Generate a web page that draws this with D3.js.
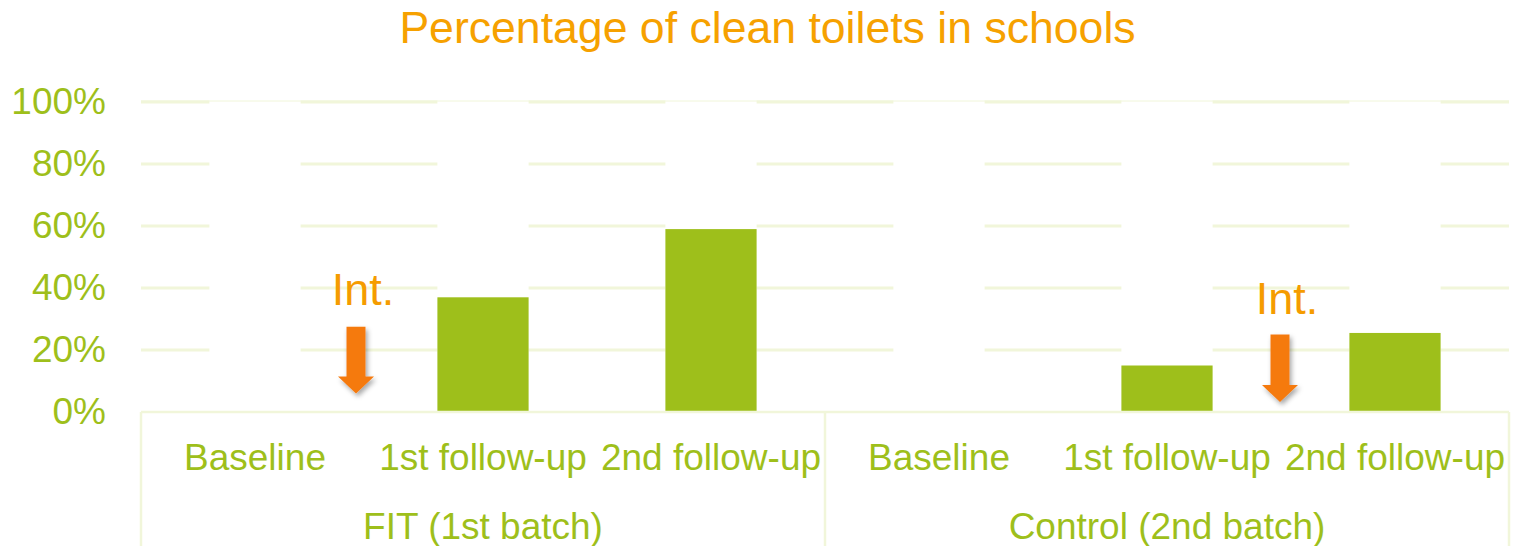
<!DOCTYPE html>
<html lang="en">
<head>
    <meta charset="UTF-8">
    <title>Percentage of clean toilets in schools</title>
    <script src="https://d3js.org/d3.v7.min.js"></script>
</head>
<body>
<style>
    body {
        margin: 0;
        background: #fff;
    }
    svg text {
        font-family: "Liberation Sans", Arial, sans-serif;
    }
</style>
<script>
    var TITLE = "Percentage of clean toilets in schools";
    var groups = ["FIT (1st batch)", "Control (2nd batch)"];
    var phases = ["Baseline", "1st follow-up", "2nd follow-up"];
    var fitValues = [0, 37, 59];
    var controlValues = [0, 15, 25.5];
    var yTicks = [0, 20, 40, 60, 80, 100];
    // intervention marks: which group, and after which phase
    var intLabels = ["Int.", "Int."];
    var intGroups = [0, 1];
    var intAfterPhase = [0, 1];

    var width = 1519,
        height = 546,
        margin = {top: 102, right: 10, bottom: 134, left: 141};

    var green = "#9ebf1b",
        gridColor = "#f1f6da",
        titleOrange = "#f6a100",
        intOrange = "#f59c00",
        arrowOrange = "#f57a10";

    var series = [fitValues, controlValues];
    var bars = [];
    for (var g = 0; g < groups.length; g++) {
        for (var p = 0; p < phases.length; p++) {
            bars.push({group: groups[g], phase: phases[p], value: series[g][p]});
        }
    }

    var svg = d3.select("body")
        .append("svg")
        .attr("width", width)
        .attr("height", height);

    var defs = svg.append("defs");
    var shadow = defs.append("filter")
        .attr("id", "shadow")
        .attr("x", "-50%").attr("y", "-50%")
        .attr("width", "200%").attr("height", "200%");
    shadow.append("feDropShadow")
        .attr("dx", 2).attr("dy", 3)
        .attr("stdDeviation", 2.5)
        .attr("flood-color", "#000")
        .attr("flood-opacity", 0.35);

    var x0 = d3.scaleBand()
        .domain(groups)
        .range([margin.left, width - margin.right]);
    var x1 = d3.scaleBand()
        .domain(phases)
        .range([0, x0.bandwidth()])
        .paddingInner(0.6)
        .paddingOuter(0.3);
    var y = d3.scaleLinear()
        .domain([0, 100])
        .range([height - margin.bottom, margin.top]);

    // title
    svg.append("text")
        .attr("x", width / 2 + 8)
        .attr("y", 43)
        .attr("text-anchor", "middle")
        .style("font-size", "44.6px")
        .style("fill", titleOrange)
        .text(TITLE);

    // gridlines
    svg.append("g")
        .selectAll("line")
        .data(yTicks.filter(function (d) { return d > 0; }))
        .enter().append("line")
        .attr("x1", margin.left)
        .attr("x2", width - margin.right)
        .attr("y1", function (d) { return y(d); })
        .attr("y2", function (d) { return y(d); })
        .style("stroke", gridColor)
        .style("stroke-width", 3);

    // white columns behind each bar slot (gridlines break there)
    svg.append("g")
        .selectAll("rect")
        .data(bars)
        .enter().append("rect")
        .attr("x", function (d) { return x0(d.group) + x1(d.phase); })
        .attr("width", x1.bandwidth())
        .attr("y", y(100) - 3)
        .attr("height", y(0) - y(100) + 3)
        .style("fill", "#fff");

    svg.append("line")
        .attr("x1", margin.left)
        .attr("x2", width - margin.right)
        .attr("y1", y(100) - 1)
        .attr("y2", y(100) - 1)
        .style("stroke", gridColor)
        .style("stroke-width", 1);

    // bars
    svg.append("g")
        .selectAll(".bar")
        .data(bars.filter(function (d) { return d.value > 0; }))
        .enter().append("rect")
        .attr("class", "bar")
        .attr("x", function (d) { return x0(d.group) + x1(d.phase); })
        .attr("width", x1.bandwidth())
        .attr("y", function (d) { return y(d.value); })
        .attr("height", function (d) { return y(0) - y(d.value); })
        .style("fill", green);

    // frame of the category axis
    var frame = svg.append("g")
        .style("stroke", gridColor)
        .style("stroke-width", 2.5);
    frame.append("line")
        .attr("x1", margin.left).attr("x2", width - margin.right)
        .attr("y1", y(0)).attr("y2", y(0));
    var edges = groups.map(function (d) { return x0(d); });
    edges.push(x0(groups[groups.length - 1]) + x0.bandwidth());
    frame.selectAll(".edge")
        .data(edges)
        .enter().append("line")
        .attr("class", "edge")
        .attr("x1", function (d) { return d; })
        .attr("x2", function (d) { return d; })
        .attr("y1", y(0))
        .attr("y2", height);

    // y axis
    var yAxis = svg.append("g")
        .attr("transform", "translate(" + margin.left + ",0)")
        .call(d3.axisLeft(y)
            .tickValues(yTicks)
            .tickFormat(function (d) { return d + "%"; })
            .tickSize(0)
            .tickPadding(35));
    yAxis.select(".domain").remove();
    yAxis.selectAll("text")
        .style("font-size", "37px")
        .style("font-family", "'Liberation Sans', Arial, sans-serif")
        .style("fill", green);

    // phase labels, one axis per group
    groups.forEach(function (grp) {
        var ax = svg.append("g")
            .attr("transform", "translate(" + x0(grp) + "," + y(0) + ")")
            .call(d3.axisBottom(x1).tickSize(0).tickPadding(32));
        ax.select(".domain").remove();
        ax.selectAll("text")
            .style("font-size", "37px")
            .style("font-family", "'Liberation Sans', Arial, sans-serif")
            .style("fill", green);
    });

    // group labels
    svg.append("g")
        .selectAll("text")
        .data(groups)
        .enter().append("text")
        .attr("x", function (d) { return x0(d) + x0.bandwidth() / 2; })
        .attr("y", y(0) + 127)
        .attr("text-anchor", "middle")
        .style("font-size", "37px")
        .style("fill", green)
        .text(function (d) { return d; });

    // intervention arrows
    var intShift = [-13, -1],
        intTop = [27.5, 25],
        intTip = [6, 3.2],
        intText = [34.5, 31.5];
    for (var i = 0; i < intLabels.length; i++) {
        var grp = groups[intGroups[i]];
        var next = phases[intAfterPhase[i] + 1];
        var bx = x0(grp) + x1(next) - x1.step() * x1.paddingInner() / 2 + intShift[i];
        var yTop = y(intTop[i]),
            yTip = y(intTip[i]),
            headH = 17, shaftW = 9.5, headW = 18;
        var path = d3.path();
        path.moveTo(bx - shaftW, yTop);
        path.lineTo(bx + shaftW, yTop);
        path.lineTo(bx + shaftW, yTip - headH);
        path.lineTo(bx + headW, yTip - headH);
        path.lineTo(bx, yTip);
        path.lineTo(bx - headW, yTip - headH);
        path.lineTo(bx - shaftW, yTip - headH);
        path.closePath();
        svg.append("path")
            .attr("d", path.toString())
            .attr("filter", "url(#shadow)")
            .style("fill", arrowOrange);
        svg.append("text")
            .attr("x", bx + 7)
            .attr("y", y(intText[i]))
            .attr("text-anchor", "middle")
            .style("font-size", "45px")
            .style("fill", intOrange)
            .text(intLabels[i]);
    }
</script>
</body>
</html>
